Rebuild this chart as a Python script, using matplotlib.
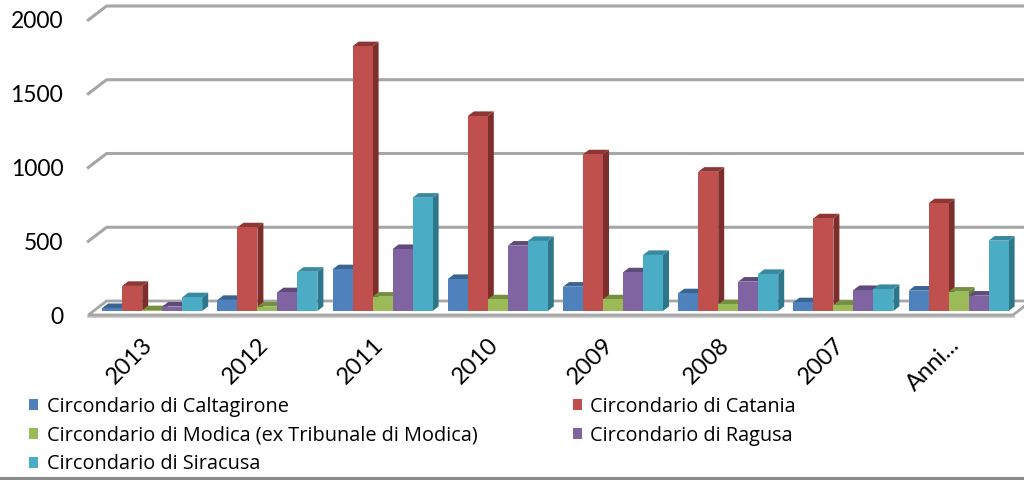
import numpy as np
import matplotlib
matplotlib.use("Agg")
import matplotlib.pyplot as plt
from matplotlib.patches import Polygon
from matplotlib.lines import Line2D

plt.rcParams['font.family'] = ['Lato', 'DejaVu Sans']

years = ['2013', '2012', '2011', '2010', '2009', '2008', '2007', 'Anni...']
caltagirone = [20, 75, 283, 217, 165, 120, 59, 138]
catania = [170, 567, 1795, 1322, 1062, 944, 628, 730]
modica = [5, 30, 97, 79, 79, 45, 41, 131]
ragusa = [30, 127, 420, 443, 262, 199, 142, 104]
siracusa = [93, 266, 768, 475, 380, 251, 149, 477]

series = [
    ('Circondario di Caltagirone', caltagirone, '#4F81BD', '#3A6593', '#34598A'),
    ('Circondario di Catania', catania, '#C0504D', '#8E3634', '#7D2E2C'),
    ('Circondario di Modica (ex Tribunale di Modica)', modica, '#9BBB59', '#74903F', '#67803A'),
    ('Circondario di Ragusa', ragusa, '#8064A2', '#604A7C', '#543F6E'),
    ('Circondario di Siracusa', siracusa, '#4BACC6', '#378AA0', '#2E778B'),
]
yticks = [0, 500, 1000, 1500, 2000]

# pixel scale of the fake 3d view
PX = 115.2       # px per category
PY = 0.1475      # px per unit
x_px0 = 152.2    # pixel x of first group centre
y_px0 = 315      # pixel y of value 0 on the front wall plane

fig = plt.figure(figsize=(10.24, 4.8), dpi=100)
ax = fig.add_axes([80 / 1024, 160 / 480, 944 / 1024, 320 / 480])
ax.set_xlim((80 - x_px0) / PX, (1024 - x_px0) / PX)
ax.set_ylim((y_px0 - 320) / PY, y_px0 / PY)
for s in ax.spines.values():
    s.set_visible(False)

xmax = ax.get_xlim()[1]
gx0 = (88.3 - x_px0) / PX
wdx = 18.3 / PX
wdv = 14 / PY
grid_c = '#a6a6a6'

# back wall gridlines
for v in yticks[1:]:
    ax.plot([gx0, gx0 + wdx, xmax], [v, v + wdv, v + wdv], color=grid_c, lw=2.2, zorder=1)

# floor
fx1 = (1013 - x_px0) / PX
ax.add_patch(Polygon([(gx0, 0), (fx1, 0), (fx1 + wdx, wdv), (gx0 + wdx, wdv)],
                     closed=True, facecolor='white', edgecolor=grid_c, lw=2, zorder=1.5))
ax.plot([gx0, fx1], [-8, -8], color='#c8c8c8', lw=2, zorder=1.4)

# bars
x = np.arange(len(years))
w = 20 / PX
bdx = 6 / PX
bdv = 4.6 / PY
b0 = 4 / PY
handles = []
for j, (name, vals, c_front, c_top, c_side) in enumerate(series):
    bars = ax.bar(x + (j - 2) * w, vals, width=w, bottom=b0, color=c_front,
                  linewidth=0, label=name)
    handles.append(bars)
    for i, p in enumerate(bars.patches):
        z = 2 + (i * 5 + j) * 0.03
        x0, y0, bw, bh = p.get_x(), p.get_y(), p.get_width(), p.get_height()
        side = Polygon([(x0 + bw, y0), (x0 + bw + bdx, y0 + bdv),
                        (x0 + bw + bdx, y0 + bh + bdv), (x0 + bw, y0 + bh)],
                       closed=True, facecolor=c_side, lw=0, zorder=z)
        top = Polygon([(x0, y0 + bh), (x0 + bw, y0 + bh),
                       (x0 + bw + bdx, y0 + bh + bdv), (x0 + bdx, y0 + bh + bdv)],
                      closed=True, facecolor=c_top, lw=0, zorder=z + 0.01)
        ax.add_patch(side)
        ax.add_patch(top)
        p.set_zorder(z + 0.02)

ax.set_yticks(yticks)
ax.set_yticklabels([str(v) for v in yticks])
ax.tick_params(axis='y', length=0, pad=12, labelsize=16.5)
ax.set_xticks(x - 10 / PX)
ax.set_xticklabels(years)
ax.tick_params(axis='x', length=0, pad=10, labelsize=17)
plt.setp(ax.get_xticklabels(), rotation=45, ha='right', va='top', rotation_mode='anchor')

order = [0, 2, 4, 1, 3]
fig.legend([handles[k] for k in order], [series[k][0] for k in order],
           loc='upper left', bbox_to_anchor=(29 / 1024, 1 - 397 / 480), ncol=2,
           frameon=False, prop={'family': 'Open Sans', 'size': 14.3},
           handlelength=0.47, handleheight=0.47,
           handletextpad=0.42, columnspacing=4.8, labelspacing=0.44,
           borderpad=0, borderaxespad=0)

fig.add_artist(Line2D([0, 1], [1.5 / 480, 1.5 / 480], color='#8c8c8c', lw=3))

fig.savefig('out.png', dpi=100)
